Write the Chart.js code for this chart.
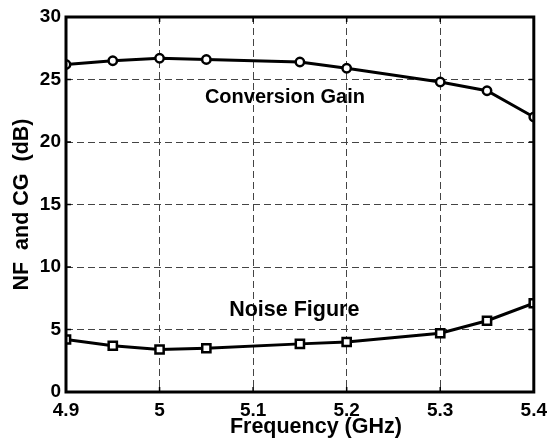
<!DOCTYPE html>
<html>
<head>
<meta charset="utf-8">
<script src="https://cdn.jsdelivr.net/npm/chart.js@4/dist/chart.umd.min.js"></script>
<style>
    html, body { margin: 0; padding: 0; background: #fff; }
    #wrap { width: 554px; height: 447px; }
</style>
</head>
<body>
<div id="wrap"><canvas id="nf-cg-chart"></canvas></div>
<script>
const frequencies = [4.9, 4.95, 5.0, 5.05, 5.15, 5.2, 5.3, 5.35, 5.4];
const conversionGain = [26.2, 26.5, 26.7, 26.6, 26.4, 25.9, 24.8, 24.1, 22.0];
const noiseFigure = [4.2, 3.7, 3.4, 3.5, 3.85, 4.0, 4.7, 5.7, 7.1];
const xTicks = [4.9, 5, 5.1, 5.2, 5.3, 5.4];
const yTicks = [0, 5, 10, 15, 20, 25, 30];

const fontFamily = '"Liberation Sans", Arial, sans-serif';

function toPoints( values )
{
    let points = [];
    for( let i = 0; i < frequencies.length; i++ )
    {
        points.push( { x: frequencies[i], y: values[i] } );
    }
    return points;
}

// frame, inward ticks, curve labels and the x title (set a bit right of centre, as in the original)
const framePlugin = {
    id: 'frame',
    afterDatasetsDraw( chart ) {
        const { ctx, chartArea, scales } = chart;
        const { left, right, top, bottom } = chartArea;
        ctx.save();

        ctx.strokeStyle = '#000';
        ctx.lineWidth = 1.5;
        ctx.beginPath();
        scales.x.ticks.forEach( t => {
            const px = scales.x.getPixelForValue( t.value );
            ctx.moveTo( px, bottom ); ctx.lineTo( px, bottom - 5 );
            ctx.moveTo( px, top ); ctx.lineTo( px, top + 5 );
        } );
        scales.y.ticks.forEach( t => {
            const py = scales.y.getPixelForValue( t.value );
            ctx.moveTo( left, py ); ctx.lineTo( left + 5, py );
            ctx.moveTo( right, py ); ctx.lineTo( right - 5, py );
        } );
        ctx.stroke();

        ctx.lineWidth = 3;
        ctx.strokeRect( left, top, right - left, bottom - top );

        ctx.fillStyle = '#000';
        ctx.textAlign = 'center';
        ctx.textBaseline = 'middle';
        ctx.font = 'bold 20px ' + fontFamily;
        ctx.fillText( 'Conversion Gain', scales.x.getPixelForValue(5.134), scales.y.getPixelForValue(23.56) );
        ctx.font = 'bold 21.5px ' + fontFamily;
        ctx.fillText( 'Noise Figure', scales.x.getPixelForValue(5.144), scales.y.getPixelForValue(6.56) );

        ctx.font = 'bold 21.5px ' + fontFamily;
        ctx.fillText( 'Frequency (GHz)', (left + right) / 2 + 16, 427 );
        ctx.restore();
    }
};

document.addEventListener('DOMContentLoaded', function(){

    const ctx = document.getElementById('nf-cg-chart').getContext('2d');
    new Chart( ctx, {
        type: 'line',
        data: {
            datasets: [
                {
                    label: 'Conversion Gain',
                    data: toPoints( conversionGain ),
                    borderColor: '#000',
                    borderWidth: 3,
                    pointStyle: 'circle',
                    pointRadius: 4.2,
                    pointBorderWidth: 2.5,
                    pointBackgroundColor: '#fff',
                    pointBorderColor: '#000',
                    tension: 0,
                    clip: 0,
                },
                {
                    label: 'Noise Figure',
                    data: toPoints( noiseFigure ),
                    borderColor: '#000',
                    borderWidth: 3,
                    pointStyle: 'rect',
                    pointRadius: 5.8,
                    pointBorderWidth: 2.5,
                    pointBackgroundColor: '#fff',
                    pointBorderColor: '#000',
                    tension: 0,
                    clip: 0,
                }
            ]
        },
        options: {
            responsive: true,
            maintainAspectRatio: false,
            animation: false,
            events: [],
            layout: { padding: { top: 17, right: 14, left: 0, bottom: 0 } },
            plugins: {
                legend: { display: false },
                tooltip: { enabled: false },
            },
            scales: {
                x: {
                    type: 'linear',
                    min: 4.9,
                    max: 5.4,
                    afterBuildTicks: axis => { axis.ticks = xTicks.map( v => ({ value: v }) ); },
                    afterFit: axis => { axis.height = 55; },
                    ticks: {
                        color: '#000',
                        padding: 7,
                        maxRotation: 0,
                        autoSkip: false,
                        font: { family: fontFamily, size: 19, weight: 'bold' },
                        callback: v => String( v ),
                    },
                    grid: { color: '#444', lineWidth: 1, drawTicks: false },
                    border: { display: false, dash: [7, 4] },
                    title: { display: false },
                },
                y: {
                    type: 'linear',
                    min: 0,
                    max: 30,
                    afterBuildTicks: axis => { axis.ticks = yTicks.map( v => ({ value: v }) ); },
                    afterFit: axis => { axis.width = 66; },
                    ticks: {
                        color: '#000',
                        padding: 5,
                        autoSkip: false,
                        font: { family: fontFamily, size: 19, weight: 'bold' },
                    },
                    grid: { color: '#444', lineWidth: 1, drawTicks: false },
                    border: { display: false, dash: [7, 4] },
                    title: {
                        display: true,
                        text: 'NF  and CG  (dB)',
                        color: '#000',
                        padding: { top: 9, bottom: 0 },
                        font: { family: fontFamily, size: 21.5, weight: 'bold' },
                    },
                },
            },
        },
        plugins: [ framePlugin ],
    });

});
</script>
</body>
</html>
